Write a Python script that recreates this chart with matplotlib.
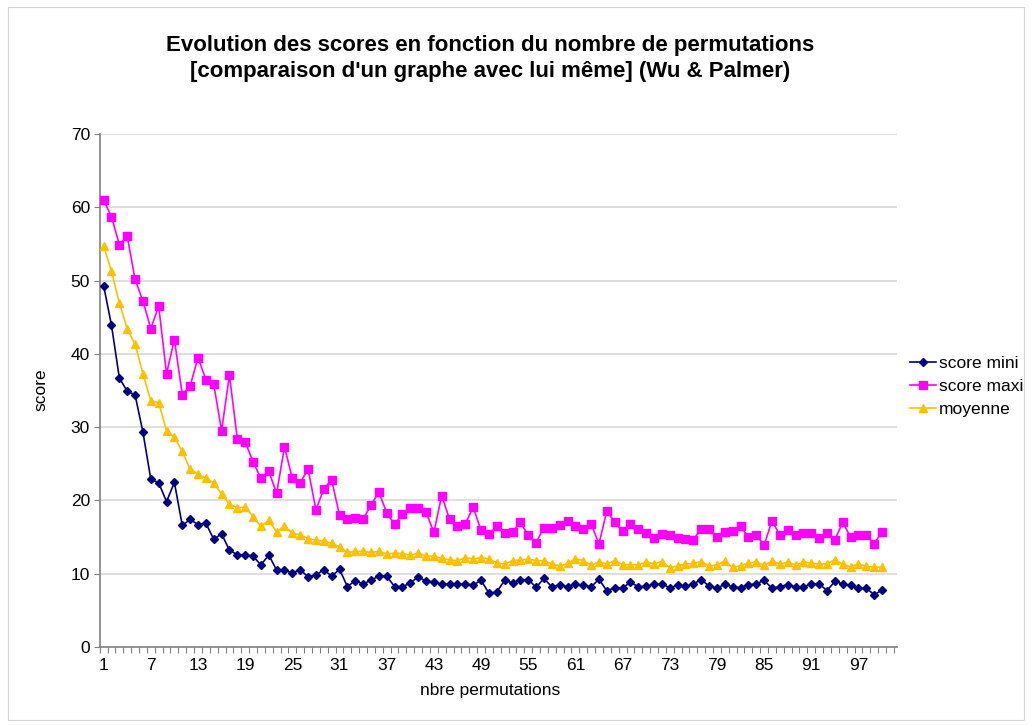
import matplotlib
matplotlib.use("Agg")
import matplotlib.pyplot as plt
from matplotlib.patches import Rectangle
from matplotlib.ticker import FixedLocator

plt.rcParams['font.family'] = ['Liberation Sans', 'DejaVu Sans']

# permutation counts 1..100
permutations = list(range(1, 101))

score_mini = [
    49.3, 43.9, 36.7, 34.9, 34.4, 29.3, 22.9, 22.4, 19.85, 22.45,
    16.6, 17.4, 16.7, 16.9, 14.7, 15.45, 13.2, 12.6, 12.55, 12.4,
    11.2, 12.55, 10.5, 10.45, 10.15, 10.5, 9.6, 9.8, 10.55, 9.65,
    10.6, 8.25, 9.05, 8.6, 9.1, 9.7, 9.65, 8.25, 8.25, 8.7,
    9.6, 8.95, 8.9, 8.55, 8.6, 8.6, 8.6, 8.45, 9.1, 7.35,
    7.5, 9.1, 8.75, 9.15, 9.2, 8.15, 9.35, 8.2, 8.45, 8.25,
    8.6, 8.4, 8.2, 9.25, 7.65, 8.1, 8.05, 8.85, 8.2, 8.3,
    8.6, 8.6, 8.1, 8.4, 8.3, 8.6, 9.2, 8.3, 8.05, 8.55,
    8.2, 8.1, 8.5, 8.6, 9.1, 8.0, 8.25, 8.5, 8.2, 8.2,
    8.6, 8.6, 7.7, 8.95, 8.6, 8.4, 8.0, 8.0, 7.15, 7.75,
]

score_maxi = [
    61.0, 58.7, 54.9, 56.05, 50.15, 47.2, 43.45, 46.5, 37.3, 41.95,
    34.45, 35.6, 39.5, 36.5, 35.9, 29.5, 37.1, 28.4, 28.0, 25.3,
    23.0, 24.0, 20.95, 27.3, 23.0, 22.4, 24.3, 18.7, 21.6, 22.8,
    17.95, 17.5, 17.6, 17.4, 19.4, 21.1, 18.35, 16.75, 18.1, 18.95,
    19.0, 18.4, 15.65, 20.65, 17.4, 16.5, 16.8, 19.1, 15.9, 15.4,
    16.45, 15.6, 15.7, 17.0, 15.25, 14.25, 16.3, 16.25, 16.7, 17.15,
    16.5, 16.15, 16.75, 14.1, 18.6, 17.0, 15.8, 16.8, 16.1, 15.6,
    14.85, 15.45, 15.35, 14.9, 14.7, 14.65, 16.1, 16.15, 15.0, 15.65,
    15.85, 16.5, 15.0, 15.3, 13.9, 17.2, 15.3, 15.9, 15.3, 15.5,
    15.6, 14.9, 15.5, 14.65, 17.0, 15.0, 15.3, 15.25, 14.1, 15.75,
]

moyenne = [
    54.7, 51.25, 46.95, 43.4, 41.3, 37.3, 33.6, 33.35, 29.5, 28.6,
    26.7, 24.25, 23.6, 23.0, 22.4, 20.85, 19.5, 19.0, 19.1, 17.8,
    16.45, 17.3, 15.7, 16.5, 15.55, 15.3, 14.8, 14.6, 14.4, 14.15,
    13.65, 12.9, 13.05, 13.05, 12.9, 13.05, 12.7, 12.8, 12.75, 12.5,
    12.8, 12.4, 12.35, 12.1, 11.9, 11.75, 12.2, 12.0, 12.2, 12.0,
    11.5, 11.3, 11.8, 11.85, 12.0, 11.8, 11.75, 11.35, 11.05, 11.4,
    12.05, 11.8, 11.15, 11.6, 11.3, 11.8, 11.25, 11.25, 11.2, 11.6,
    11.35, 11.65, 10.8, 11.1, 11.3, 11.4, 11.65, 11.0, 11.25, 11.7,
    10.85, 11.1, 11.45, 11.6, 11.15, 11.75, 11.3, 11.55, 11.2, 11.6,
    11.45, 11.3, 11.35, 11.9, 11.3, 10.95, 11.35, 11.0, 10.9, 10.9,
]

x_tick_labels = [str(v) for v in range(1, 101, 6)]
y_ticks = list(range(0, 71, 10))

W, H = 1032, 726
fig = plt.figure(figsize=(W / 100, H / 100), dpi=100)
fig.patch.set_facecolor('white')

# chart area border
fig.patches.append(Rectangle((8 / W, 6 / H), (1024 - 8) / W, (719 - 6) / H,
                             transform=fig.transFigure, fill=False,
                             edgecolor='#d4d4d4', linewidth=0.8))

left, right, top, bottom = 99.7, 897, 134, 647
ax = fig.add_axes([left / W, 1 - bottom / H, (right - left) / W, (bottom - top) / H])

ax.plot(permutations, score_mini, color='#000080', marker='D', markersize=3.8,
        linewidth=1.2, label='score mini', zorder=3)
ax.plot(permutations, score_maxi, color='#FF00FF', marker='s', markersize=5.4,
        linewidth=1.2, label='score maxi', zorder=3)
ax.plot(permutations, moyenne, color='#FFC000', marker='^', markersize=5.8,
        linewidth=1.2, label='moyenne', zorder=3)

ax.set_xlim(0.5, 101.9)
ax.set_ylim(0, 70)
ax.set_yticks(y_ticks)
ax.yaxis.grid(True, color='#d9d9d9', linewidth=1.2)
ax.set_axisbelow(True)

ax.set_xticks(list(range(1, 101, 6)))
ax.set_xticklabels(x_tick_labels)
ax.xaxis.set_minor_locator(FixedLocator([i + 0.5 for i in range(0, 102)]))
ax.tick_params(axis='x', which='major', length=0, pad=8, labelsize=12.5)
ax.tick_params(axis='x', which='minor', length=4, width=0.8, color='#808080', direction='out')
ax.tick_params(axis='y', length=4, width=0.8, color='#808080', labelsize=12.5, pad=3)

for s in ('top', 'right'):
    ax.spines[s].set_visible(False)
ax.spines['left'].set_color('#808080')
ax.spines['bottom'].set_color('#808080')
ax.spines['left'].set_linewidth(1.2)
ax.spines['bottom'].set_linewidth(1.2)

fig.text(41 / W, 1 - 390 / H, 'score', rotation=90, ha='center', va='center', fontsize=12.5)
fig.text(490 / W, 1 - 690 / H, 'nbre permutations', ha='center', va='center', fontsize=12.5)

fig.text(490 / W, 1 - 45 / H, 'Evolution des scores en fonction du nombre de permutations',
         ha='center', va='center', fontsize=16, fontweight='bold')
fig.text(490 / W, 1 - 71 / H, "[comparaison d'un graphe avec lui même] (Wu & Palmer)",
         ha='center', va='center', fontsize=16, fontweight='bold')

fig.legend(loc='upper left', bbox_to_anchor=(910 / W, 1 - 356 / H), frameon=False,
           fontsize=12.5, handlelength=1.5, handletextpad=0.15, labelspacing=0.45,
           borderpad=0, borderaxespad=0)

fig.savefig('out.png', dpi=100)
